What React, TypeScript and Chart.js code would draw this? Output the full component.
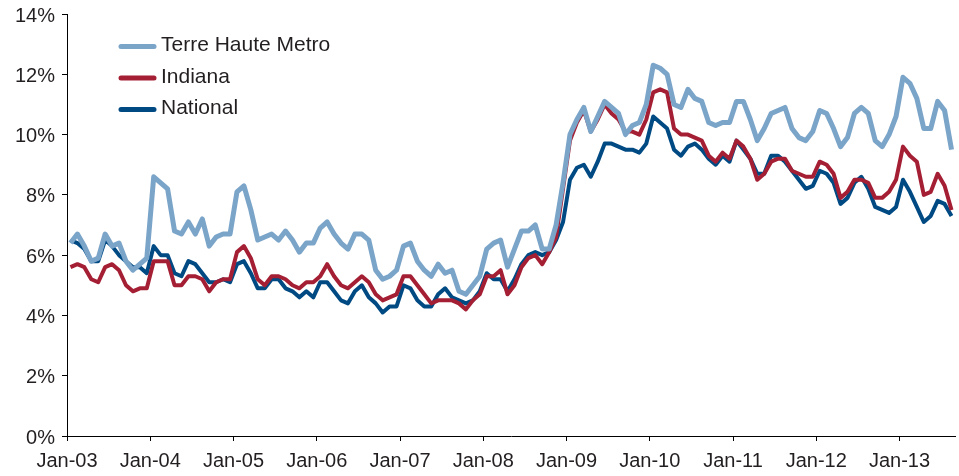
import React, { useEffect, useRef } from "react";
import { Chart, registerables } from "chart.js";

Chart.register(...registerables);

const tickLabels = ["Jan-03", "Jan-04", "Jan-05", "Jan-06", "Jan-07", "Jan-08", "Jan-09", "Jan-10", "Jan-11", "Jan-12", "Jan-13"];

const seriesNames = ["Terre Haute Metro", "Indiana", "National"];

const terreHaute = [
  6.4, 6.7, 6.3, 5.8, 5.9, 6.7, 6.3, 6.4, 5.8, 5.5, 5.7, 5.9,
  8.6, 8.4, 8.2, 6.8, 6.7, 7.1, 6.7, 7.2, 6.3, 6.6, 6.7, 6.7,
  8.1, 8.3, 7.5, 6.5, 6.6, 6.7, 6.5, 6.8, 6.5, 6.1, 6.4, 6.4,
  6.9, 7.1, 6.7, 6.4, 6.2, 6.7, 6.7, 6.5, 5.5, 5.2, 5.3, 5.5,
  6.3, 6.4, 5.8, 5.5, 5.3, 5.7, 5.4, 5.5, 4.8, 4.7, 5.0, 5.3,
  6.2, 6.4, 6.5, 5.6, 6.2, 6.8, 6.8, 7.0, 6.2, 6.2, 7.0, 8.4,
  10.0, 10.5, 10.9, 10.1, 10.6, 11.1, 10.9, 10.7, 10.0, 10.3, 10.4, 11.0,
  12.3, 12.2, 12.0, 11.0, 10.9, 11.5, 11.2, 11.1, 10.4, 10.3, 10.4, 10.4,
  11.1, 11.1, 10.5, 9.8, 10.2, 10.7, 10.8, 10.9, 10.2, 9.9, 9.8, 10.1,
  10.8, 10.7, 10.2, 9.6, 9.9, 10.7, 10.9, 10.7, 9.8, 9.6, 10.0, 10.6,
  11.9, 11.7, 11.2, 10.2, 10.2, 11.1, 10.8, 9.5,
];

const indiana = [
  5.6, 5.7, 5.6, 5.2, 5.1, 5.6, 5.7, 5.5, 5.0, 4.8, 4.9, 4.9,
  5.8, 5.8, 5.8, 5.0, 5.0, 5.3, 5.3, 5.2, 4.8, 5.1, 5.2, 5.2,
  6.1, 6.3, 5.9, 5.2, 5.0, 5.3, 5.3, 5.2, 5.0, 4.9, 5.1, 5.1,
  5.3, 5.7, 5.3, 5.0, 4.9, 5.1, 5.3, 5.1, 4.7, 4.5, 4.6, 4.7,
  5.3, 5.3, 5.0, 4.7, 4.4, 4.5, 4.5, 4.5, 4.4, 4.2, 4.5, 4.7,
  5.3, 5.3, 5.5, 4.7, 5.0, 5.6, 5.9, 6.0, 5.7, 6.1, 6.6, 8.2,
  9.8, 10.4, 10.8, 10.1, 10.5, 11.0, 10.7, 10.5, 10.1, 10.1, 10.0, 10.5,
  11.4, 11.5, 11.4, 10.2, 10.0, 10.0, 9.9, 9.8, 9.3, 9.1, 9.4, 9.2,
  9.8, 9.6, 9.2, 8.5, 8.7, 9.1, 9.2, 9.2, 8.8, 8.7, 8.6, 8.6,
  9.1, 9.0, 8.7, 7.9, 8.1, 8.5, 8.5, 8.4, 7.9, 7.9, 8.1, 8.5,
  9.6, 9.3, 9.1, 8.0, 8.1, 8.7, 8.3, 7.5,
];

const national = [
  6.5, 6.4, 6.2, 5.8, 5.8, 6.5, 6.3, 6.0, 5.8, 5.6, 5.6, 5.4,
  6.3, 6.0, 6.0, 5.4, 5.3, 5.8, 5.7, 5.4, 5.1, 5.1, 5.2, 5.1,
  5.7, 5.8, 5.4, 4.9, 4.9, 5.2, 5.2, 4.9, 4.8, 4.6, 4.8, 4.6,
  5.1, 5.1, 4.8, 4.5, 4.4, 4.8, 5.0, 4.6, 4.4, 4.1, 4.3, 4.3,
  5.0, 4.9, 4.5, 4.3, 4.3, 4.7, 4.9, 4.6, 4.5, 4.4, 4.5, 4.8,
  5.4, 5.2, 5.2, 4.8, 5.2, 5.7, 6.0, 6.1, 6.0, 6.1, 6.5, 7.1,
  8.5, 8.9, 9.0, 8.6, 9.1, 9.7, 9.7, 9.6, 9.5, 9.5, 9.4, 9.7,
  10.6, 10.4, 10.2, 9.5, 9.3, 9.6, 9.7, 9.5, 9.2, 9.0, 9.3, 9.1,
  9.8, 9.5, 9.2, 8.7, 8.7, 9.3, 9.3, 9.1, 8.8, 8.5, 8.2, 8.3,
  8.8, 8.7, 8.4, 7.7, 7.9, 8.4, 8.6, 8.2, 7.6, 7.5, 7.4, 7.6,
  8.5, 8.1, 7.6, 7.1, 7.3, 7.8, 7.7, 7.3,
];

const colors = ["#7ba4c9", "#a51f34", "#004a84"];
const widths = [5, 4, 4];

const FONT = '"Liberation Sans", Arial, sans-serif';
const TEXT = "#231f20";

const toPoints = (arr: number[]) => arr.map((v, i) => ({ x: i + 0.5, y: v }));

const legendPlugin = {
  id: "insideLegend",
  afterDraw(chart: any) {
    const ctx = chart.ctx;
    ctx.save();
    chart.data.datasets.forEach((ds: any, k: number) => {
      const y = 46.5 + k * 31.5;
      ctx.strokeStyle = ds.borderColor;
      ctx.lineWidth = 5;
      ctx.lineCap = "round";
      ctx.beginPath();
      ctx.moveTo(121, y);
      ctx.lineTo(154, y);
      ctx.stroke();
      ctx.fillStyle = TEXT;
      ctx.font = `21px ${FONT}`;
      ctx.textBaseline = "alphabetic";
      ctx.textAlign = "left";
      ctx.fillText(ds.label, 161, y + 4.5);
    });
    ctx.restore();
  },
};

export default function App() {
  const ref = useRef<HTMLCanvasElement | null>(null);

  useEffect(() => {
    if (!ref.current) return;
    const total = terreHaute.length;
    const tickValues = tickLabels.map((_, k) => k * 12);
    const chart = new Chart(ref.current, {
      type: "line",
      data: {
        datasets: [terreHaute, indiana, national].map((arr, k) => ({
          label: seriesNames[k],
          data: toPoints(arr),
          borderColor: colors[k],
          backgroundColor: colors[k],
          borderWidth: widths[k],
          pointRadius: 0,
          tension: 0,
          borderJoinStyle: "round" as const,
          fill: false,
        })),
      },
      options: {
        animation: false,
        responsive: false,
        devicePixelRatio: 1,
        layout: { padding: { top: 14, right: 4, left: 0, bottom: 0 } },
        plugins: { legend: { display: false }, tooltip: { enabled: false } },
        scales: {
          x: {
            type: "linear",
            min: 0,
            max: total,
            afterBuildTicks: (scale: any) => {
              scale.ticks = tickValues.map((v) => ({ value: v }));
            },
            afterFit: (scale: any) => {
              scale.height = 40;
              scale.paddingLeft = 0;
              scale.paddingRight = 0;
            },
            border: { display: true, color: "#000", width: 1 },
            grid: { drawOnChartArea: false, drawTicks: true, tickLength: 5, color: "#000" },
            ticks: {
              autoSkip: false,
              maxRotation: 0,
              padding: 8,
              color: TEXT,
              font: { family: FONT, size: 20 },
              callback: (v: any) => tickLabels[Math.round(Number(v) / 12)] ?? "",
            },
          },
          y: {
            min: 0,
            max: 14,
            afterFit: (scale: any) => {
              scale.width = 67;
              scale.paddingTop = 0;
              scale.paddingBottom = 0;
            },
            border: { display: true, color: "#000", width: 1 },
            grid: { drawOnChartArea: false, drawTicks: true, tickLength: 5, color: "#000" },
            ticks: {
              stepSize: 2,
              padding: 7,
              labelOffset: 2,
              color: TEXT,
              font: { family: FONT, size: 20 },
              callback: (v: any) => `${v}%`,
            },
          },
        },
      },
      plugins: [legendPlugin],
    } as any);
    return () => chart.destroy();
  }, []);

  return (
    <div style={{ position: "fixed", left: 0, top: 0, width: 959, height: 476, background: "#fff" }}>
      <canvas ref={ref} width={959} height={476} style={{ display: "block" }} />
    </div>
  );
}
